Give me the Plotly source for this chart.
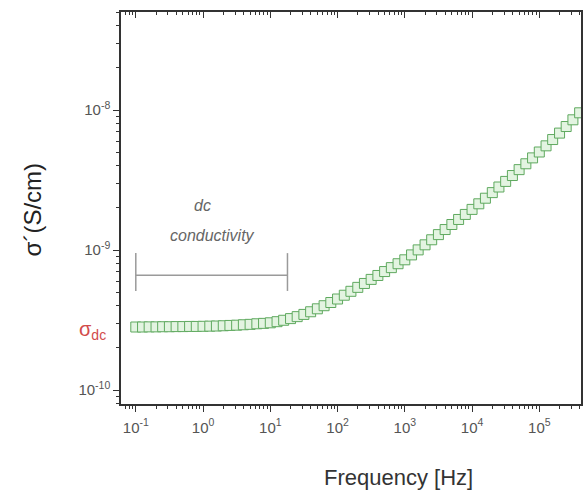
import plotly.graph_objects as go

# ---- data ----
freq_hz = [
    0.1, 0.126, 0.158, 0.2, 0.251, 0.316, 0.398, 0.501, 0.631, 0.794,
    1, 1.26, 1.58, 2, 2.51, 3.16, 3.98, 5.01, 6.31, 7.94,
    10, 12.6, 15.8, 20, 25.1, 31.6, 39.8, 50.1, 63.1, 79.4,
    100, 126, 158, 200, 251, 316, 398, 501, 631, 794,
    1000, 1260, 1580, 2000, 2510, 3160, 3980, 5010, 6310, 7940,
    1e4, 1.26e4, 1.58e4, 2e4, 2.51e4, 3.16e4, 3.98e4, 5.01e4, 6.31e4, 7.94e4,
    1e5, 1.26e5, 1.58e5, 2e5, 2.51e5, 3.16e5, 3.98e5,
]
sigma_s_cm = [
    2.818e-10, 2.818e-10, 2.825e-10, 2.825e-10, 2.831e-10, 2.831e-10, 2.838e-10, 2.838e-10, 2.844e-10, 2.844e-10,
    2.851e-10, 2.858e-10, 2.864e-10, 2.877e-10, 2.891e-10, 2.904e-10, 2.924e-10, 2.944e-10, 2.972e-10, 2.992e-10,
    3.020e-10, 3.076e-10, 3.148e-10, 3.236e-10, 3.342e-10, 3.467e-10, 3.622e-10, 3.802e-10, 4.000e-10, 4.217e-10,
    4.467e-10, 4.753e-10, 5.070e-10, 5.408e-10, 5.768e-10, 6.166e-10, 6.577e-10, 7.015e-10, 7.482e-10, 7.980e-10,
    8.511e-10, 9.226e-10, 1.002e-9, 1.089e-9, 1.183e-9, 1.288e-9, 1.400e-9, 1.521e-9, 1.652e-9, 1.795e-9,
    1.950e-9, 2.138e-9, 2.344e-9, 2.570e-9, 2.818e-9, 3.090e-9, 3.404e-9, 3.750e-9, 4.130e-9, 4.550e-9,
    5.012e-9, 5.546e-9, 6.152e-9, 6.839e-9, 7.621e-9, 8.511e-9, 9.550e-9,
]

x_tick_vals = [0.1, 1, 10, 100, 1000, 1e4, 1e5]
x_tick_text = ["10<sup>-1</sup>", "10<sup>0</sup>", "10<sup>1</sup>", "10<sup>2</sup>",
               "10<sup>3</sup>", "10<sup>4</sup>", "10<sup>5</sup>"]
y_tick_vals = [1e-10, 1e-9, 1e-8]
y_tick_text = ["10<sup>-10</sup>", "10<sup>-9</sup>", "10<sup>-8</sup>"]

dc_range_hz = [0.1, 18]        # extent of the "dc conductivity" bracket
dc_bracket_level = 6.6e-10     # height of the bracket bar
dc_bracket_caps = [5.1e-10, 9.5e-10]

x_minor = [m * 10.0 ** d for d in range(-2, 6) for m in range(2, 10)]
y_minor = [m * 10.0 ** d for d in range(-11, -7) for m in range(2, 10)]

FONT = "Arial, Liberation Sans, sans-serif"
AX = "#333333"
TICKFONT = dict(family=FONT, size=15, color="#555555")

fig = go.Figure()

fig.add_trace(go.Scatter(
    x=freq_hz, y=sigma_s_cm, mode="markers",
    marker=dict(symbol="square", size=10, color="#e3f4e1",
                line=dict(color="#5fa95f", width=1)),
    showlegend=False, hoverinfo="skip",
))

# dc conductivity bracket
fig.add_trace(go.Scatter(
    x=[dc_range_hz[0], dc_range_hz[0], None, dc_range_hz[0], dc_range_hz[1], None, dc_range_hz[1], dc_range_hz[1]],
    y=[dc_bracket_caps[0], dc_bracket_caps[1], None, dc_bracket_level, dc_bracket_level, None,
       dc_bracket_caps[0], dc_bracket_caps[1]],
    mode="lines", line=dict(color="#9a9a9a", width=1.5),
    showlegend=False, hoverinfo="skip",
))

# invisible trace to anchor top axis
fig.add_trace(go.Scatter(x=[freq_hz[0]], y=[sigma_s_cm[0]], xaxis="x2", mode="markers",
                         marker=dict(opacity=0), showlegend=False, hoverinfo="skip"))

xrange = [-1.22, 5.62]
yrange = [-10.1, -7.3]


def px_x(px):
    return (px - 121) / 462


def px_y(py):
    return (404 - py) / 392


fig.update_layout(
    width=585, height=496,
    margin=dict(l=121, r=2, t=12, b=92),
    paper_bgcolor="white", plot_bgcolor="white",
    font=dict(family=FONT, color="#555555", size=15),
    xaxis=dict(
        type="log", range=xrange, tickmode="array", tickvals=x_tick_vals, ticktext=x_tick_text,
        ticks="outside", ticklen=6, tickwidth=1.2, tickcolor=AX, ticklabelstandoff=3,
        showline=True, linecolor=AX, linewidth=1.5, mirror=True,
        showgrid=False, zeroline=False, tickfont=TICKFONT,
        minor=dict(tickmode="array", tickvals=x_minor, ticks="outside", ticklen=3, tickcolor=AX, showgrid=False),
    ),
    xaxis2=dict(
        type="log", range=xrange, overlaying="x", side="top", anchor="y",
        tickmode="array", tickvals=x_tick_vals, showticklabels=False,
        ticks="inside", ticklen=6, tickwidth=1.2, tickcolor=AX, showgrid=False, zeroline=False,
        showline=False,
        minor=dict(tickmode="array", tickvals=x_minor, ticks="inside", ticklen=3, tickcolor=AX, showgrid=False),
    ),
    yaxis=dict(
        type="log", range=yrange, tickmode="array", tickvals=y_tick_vals, ticktext=y_tick_text,
        ticks="outside", ticklen=6, tickwidth=1.2, tickcolor=AX,
        showline=True, linecolor=AX, linewidth=1.5, mirror=True,
        showgrid=False, zeroline=False, tickfont=TICKFONT,
        minor=dict(tickmode="array", tickvals=y_minor, ticks="outside", ticklen=3, tickcolor=AX, showgrid=False),
    ),
    annotations=[
        dict(text="<i>dc</i>", x=px_x(203), y=px_y(205), xref="paper", yref="paper", showarrow=False,
             font=dict(family=FONT, size=16, color="#666666"), xanchor="center", yanchor="middle"),
        dict(text="<i>conductivity</i>", x=px_x(213), y=px_y(235), xref="paper", yref="paper",
             showarrow=False, font=dict(family=FONT, size=16, color="#666666"), xanchor="center", yanchor="middle"),
        dict(text="σ<sub>dc</sub>", x=px_x(108), y=px_y(330), xref="paper", yref="paper",
             showarrow=False, font=dict(family=FONT, size=20, color="#d24b4b"), xanchor="right", yanchor="middle"),
        dict(text="σ´(S/cm)", x=px_x(33), y=px_y(210), xref="paper", yref="paper",
             showarrow=False, textangle=-90, font=dict(family=FONT, size=24, color="#222222"),
             xanchor="center", yanchor="middle"),
        dict(text="Frequency [Hz]", x=px_x(400), y=px_y(477), xref="paper", yref="paper",
             showarrow=False, font=dict(family=FONT, size=22, color="#333333"),
             xanchor="center", yanchor="middle"),
    ],
)

fig.write_html("out.html")
